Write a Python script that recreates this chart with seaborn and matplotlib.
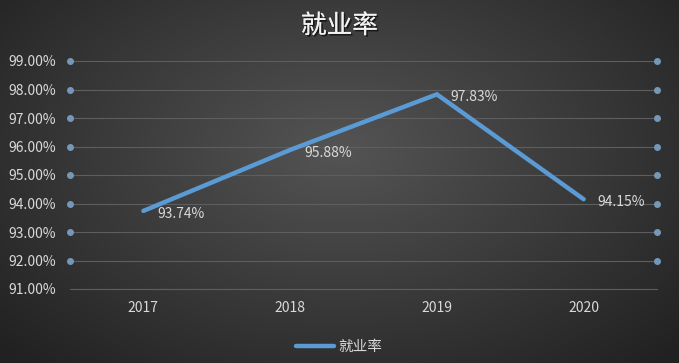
import numpy as np
import pandas as pd
import matplotlib
matplotlib.use("Agg")
import matplotlib.pyplot as plt
import matplotlib.patheffects as pe
from matplotlib.lines import Line2D
import seaborn as sns

# Data
years = ["2017", "2018", "2019", "2020"]
rates = [93.74, 95.88, 97.83, 94.15]
y_ticks = [91, 92, 93, 94, 95, 96, 97, 98, 99]

df = pd.DataFrame({"year": years, "rate": rates})

sns.set_style("dark")
plt.rcParams["font.family"] = ["Noto Sans CJK SC", "DejaVu Sans"]

text_color = "#D9D9D9"
line_color = "#5B9BD5"

fig = plt.figure(figsize=(6.79, 3.63), dpi=100)

# radial gradient background
bg = fig.add_axes([0, 0, 1, 1], zorder=-10)
yy, xx = np.mgrid[0:363, 0:679]
r = np.sqrt(((xx - 340) / 420.0) ** 2 + ((yy - 150) / 260.0) ** 2)
shade = np.clip(0.33 - 0.18 * r, 0.13, 0.34)
bg.imshow(np.dstack([shade] * 3), aspect="auto", extent=[0, 1, 0, 1])
bg.axis("off")

ax = fig.add_axes([70 / 679, 74 / 363, 587 / 679, 228 / 363])
ax.patch.set_alpha(0)

sns.lineplot(data=df, x="year", y="rate", ax=ax, color=line_color,
             linewidth=3.2, solid_capstyle="round", solid_joinstyle="miter",
             legend=False, zorder=5)

ax.set_xlim(-0.5, len(years) - 0.5)
ax.set_ylim(y_ticks[0], y_ticks[-1])
ax.set_yticks(y_ticks)
ax.set_yticklabels([f"{v:.2f}%" for v in y_ticks])
ax.grid(axis="y", color="#5E5E5E", linewidth=0.8)
ax.grid(axis="x", visible=False)
for s in ax.spines.values():
    s.set_visible(False)
ax.axhline(y_ticks[0], color="#5E5E5E", linewidth=0.8, clip_on=False)
ax.tick_params(axis="y", colors=text_color, labelsize=10, pad=10, length=0)
ax.tick_params(axis="x", colors=text_color, labelsize=10, pad=9, length=0)
ax.set_xlabel("")
ax.set_ylabel("")

# selection handle dots at plot edges
for v in y_ticks[1:]:
    for xe in (0, 1):
        ax.plot([xe], [v], marker="o", markersize=4, color="#7598B8",
                transform=ax.get_yaxis_transform(), clip_on=False, zorder=6)

# data labels
for i, (yr, v) in enumerate(zip(years, rates)):
    ax.annotate(f"{v:.2f}%", xy=(i, v), xytext=(10, -2), textcoords="offset points",
                ha="left", va="center", color=text_color, fontsize=10, zorder=7)

fig.text(0.5, 0.928, "就业率", ha="center", va="center", fontsize=18.5, color="#F2F2F2",
         path_effects=[pe.withSimplePatchShadow(offset=(1.2, -1.2), shadow_rgbFace="black", alpha=0.6),
                       pe.Normal()])

handle = Line2D([0], [0], color=line_color, linewidth=3.2, solid_capstyle="round")
fig.legend([handle], ["就业率"], loc="center", bbox_to_anchor=(0.5, 0.045),
           frameon=False, labelcolor=text_color, fontsize=10.5,
           handlelength=2.6, handletextpad=0.3)

fig.savefig("out.png", dpi=100)
